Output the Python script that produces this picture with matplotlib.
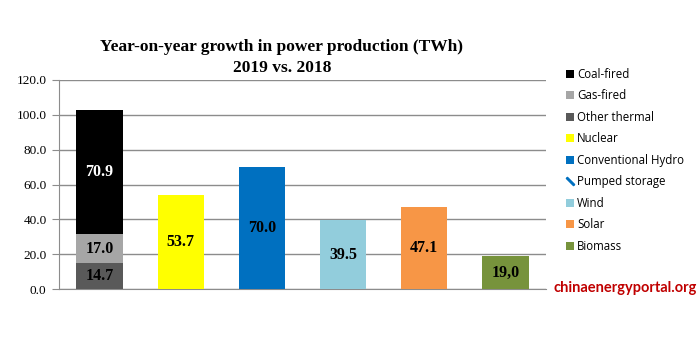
import matplotlib
matplotlib.use('Agg')
import matplotlib.pyplot as plt
from matplotlib.patches import Patch
from matplotlib.lines import Line2D

# data (TWh growth, 2019 vs 2018)
categories = ['Thermal', 'Nuclear', 'Hydro', 'Wind', 'Solar', 'Biomass']
other_thermal = [14.7, 0, 0, 0, 0, 0]
gas_fired = [17.0, 0, 0, 0, 0, 0]
coal_fired = [70.9, 0, 0, 0, 0, 0]
nuclear = [0, 53.7, 0, 0, 0, 0]
hydro = [0, 0, 70.0, 0, 0, 0]
pumped = [0, 0, 0, 0, 0, 0]
wind = [0, 0, 0, 39.5, 0, 0]
solar = [0, 0, 0, 0, 47.1, 0]
biomass = [0, 0, 0, 0, 0, 19.0]
biomass_label = '19,0'
yticks = [0, 20, 40, 60, 80, 100, 120]

serif = ['Liberation Serif', 'DejaVu Serif']

fig = plt.figure(figsize=(7, 3.5), dpi=100)
ax = fig.add_axes([59/700, 1 - 289/350, 487/700, 209/350])

x = list(range(len(categories)))
w = 0.57
bottom = [0] * len(categories)
# stack order bottom -> top
stack = [
    ('Other thermal', other_thermal, '#595959', 'black'),
    ('Gas-fired', gas_fired, '#A6A6A6', 'black'),
    ('Coal-fired', coal_fired, '#000000', 'white'),
    ('Nuclear', nuclear, '#FFFF00', 'black'),
    ('Conventional Hydro', hydro, '#0070C0', 'black'),
    ('Pumped storage', pumped, '#0070C0', 'black'),
    ('Wind', wind, '#92CDDC', 'black'),
    ('Solar', solar, '#F79646', 'black'),
    ('Biomass', biomass, '#77933C', 'black'),
]
for name, vals, col, tcol in stack:
    ax.bar(x, vals, w, bottom=bottom, color=col, zorder=3)
    for i, v in enumerate(vals):
        if v > 0:
            txt = biomass_label if name == 'Biomass' else f'{v:.1f}'
            ax.text(i, bottom[i] + v / 2, txt, ha='center', va='center',
                    color=tcol, fontsize=11.5, fontweight='bold', family=serif,
                    zorder=4)
    bottom = [b + v for b, v in zip(bottom, vals)]

ax.set_xlim(-0.5, len(categories) - 0.5)
ax.set_ylim(0, 120)
ax.set_yticks(yticks)
ax.set_yticklabels([f'{t:.1f}' for t in yticks], family=serif, fontsize=9.5)
ax.set_xticks([])
ax.grid(axis='y', color='#8C8C8C', lw=1, zorder=0)
for s in ['top', 'right']:
    ax.spines[s].set_visible(False)
ax.spines['left'].set_color('#8C8C8C')
ax.spines['bottom'].set_color('#8C8C8C')
ax.tick_params(axis='y', length=5, color='#8C8C8C', pad=4)

fig.text(282/700, 1 - 47/350, 'Year-on-year growth in power production (TWh)',
         ha='center', va='center', fontsize=12.5, fontweight='bold', family=serif)
fig.text(282/700, 1 - 68/350, '2019 vs. 2018',
         ha='center', va='center', fontsize=12.5, fontweight='bold', family=serif)

legend_order = ['Coal-fired', 'Gas-fired', 'Other thermal', 'Nuclear',
                'Conventional Hydro', 'Pumped storage', 'Wind', 'Solar', 'Biomass']
colors = {n: c for n, _, c, _ in stack}
handles = []
for n in legend_order:
    if n == 'Pumped storage':
        handles.append(Line2D([], [], color='#0070C0', lw=0, marker=(2, 2, 45),
                              markersize=8, markeredgewidth=1.8, label=n))
    else:
        handles.append(Patch(facecolor=colors[n], lw=0, label=n))
fig.legend(handles=handles, loc='upper left', bbox_to_anchor=(560/700, 1 - 62/350),
           frameon=False, handlelength=0.7, handleheight=0.7,
           handletextpad=0.3, labelspacing=0.74, borderpad=0,
           prop={'family': 'Open Sans', 'size': 8.3})

fig.text(697/700, 1 - 288/350, 'chinaenergyportal.org', ha='right', va='center',
         color='#C00000', fontsize=10.5, fontweight='bold', family='Lato')

fig.savefig('out.png', dpi=100)
